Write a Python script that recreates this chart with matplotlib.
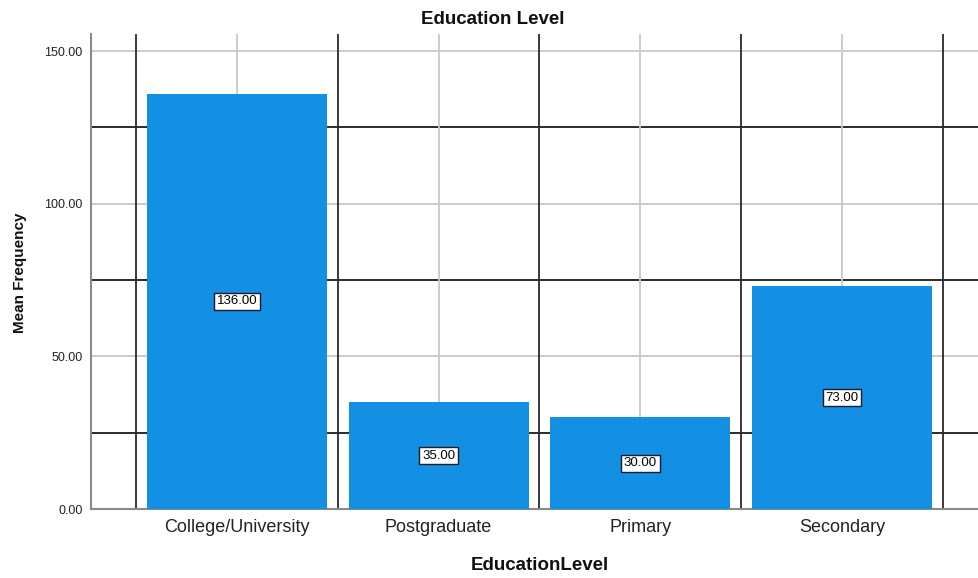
import matplotlib
matplotlib.use("Agg")
import matplotlib.pyplot as plt

categories = ["College/University", "Postgraduate", "Primary", "Secondary"]
mean_frequency = [136.0, 35.0, 30.0, 73.0]
y_ticks = [0, 50, 100, 150]

plt.rcParams["font.family"] = ["Liberation Sans", "DejaVu Sans"]

W, H = 979, 578
fig = plt.figure(figsize=(W / 100, H / 100), dpi=100)
ax = fig.add_axes([91 / W, 1 - 509 / H, 1 - 91 / W, (509 - 34) / H])

x = list(range(len(categories)))
ax.set_xlim(-0.723, 3.679)
ax.set_ylim(0, 155.6)

# light grid at ticks, dark grid between them
for v in y_ticks[1:]:
    ax.axhline(v, color="#c8c8c8", lw=1.3, zorder=0)
for v in [25, 75, 125]:
    ax.axhline(v, color="#1a1a1a", lw=1.3, zorder=0)
for xi in x:
    ax.axvline(xi, color="#c8c8c8", lw=1.3, zorder=0)
for xi in [i - 0.5 for i in range(len(categories) + 1)]:
    ax.axvline(xi, color="#2a2a2a", lw=1.3, zorder=0)

bars = ax.bar(x, mean_frequency, width=0.892, color="#138fe3", zorder=2)

for xi, v in zip(x, mean_frequency):
    ax.text(xi, v / 2, f"{v:.2f}", ha="center", va="center", fontsize=9.5,
            color="black", zorder=3,
            bbox=dict(boxstyle="square,pad=0.2", fc="white", ec="#1a1a2a", lw=1.0))

ax.set_xticks(x)
ax.set_xticklabels(categories, fontsize=13, color="#222222")
ax.set_yticks(y_ticks)
ax.set_yticklabels([f"{v:.2f}" for v in y_ticks], fontsize=9, color="#222222")
ax.tick_params(axis="both", length=0, pad=6)
ax.tick_params(axis="x", pad=7)

for side in ["top", "right"]:
    ax.spines[side].set_visible(False)
for side in ["left", "bottom"]:
    ax.spines[side].set_color("#8a8a8a")
    ax.spines[side].set_linewidth(1.5)
    ax.spines[side].set_zorder(1)

fig.text(493 / W, 1 - 19.5 / H, "Education Level", ha="center", va="center",
         fontsize=13.5, fontweight="bold", color="#111111")
fig.text(539.5 / W, 1 - 566 / H, "EducationLevel", ha="center", va="center",
         fontsize=13.5, fontweight="bold", color="#111111")
ax.set_ylabel("Mean Frequency", fontsize=11, fontweight="bold", color="#111111")
ax.yaxis.set_label_coords(-0.0717, 0.497)

fig.savefig("out.png", dpi=100)
